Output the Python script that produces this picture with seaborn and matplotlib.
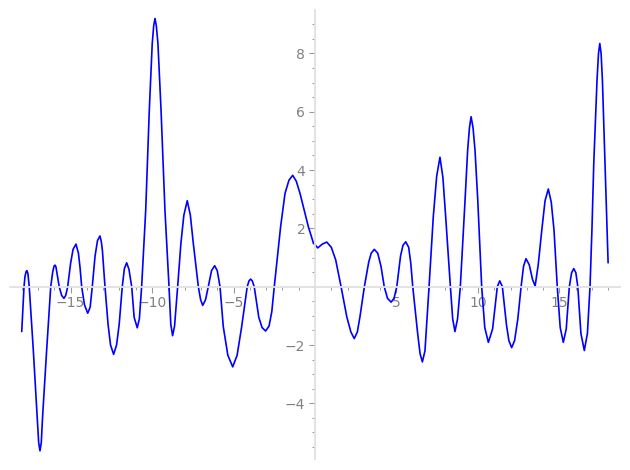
import numpy as np
import pandas as pd
import seaborn as sns
import matplotlib
matplotlib.use("Agg")
import matplotlib.pyplot as plt
from matplotlib.ticker import MultipleLocator, FixedLocator

# Points (data units)
x_vals = [-18.00, -17.93, -17.86, -17.80, -17.73, -17.68, -17.62, -17.54, -17.29, -17.05,
          -16.96, -16.88, -16.80, -16.72, -16.47, -16.22, -16.10, -16.02, -15.96, -15.90,
          -15.80, -15.70, -15.55, -15.41, -15.30, -15.18, -15.00, -14.85, -14.67, -14.52,
          -14.42, -14.32, -14.15, -13.95, -13.80, -13.67, -13.50, -13.35, -13.20, -13.12,
          -13.05, -12.89, -12.70, -12.55, -12.36, -12.18, -12.02, -11.83, -11.70, -11.56,
          -11.42, -11.25, -11.10, -10.91, -10.78, -10.64, -10.39, -10.17, -9.99, -9.90,
          -9.82, -9.74, -9.64, -9.45, -9.21, -8.96, -8.85, -8.74, -8.62, -8.43,
          -8.23, -8.05, -7.84, -7.65, -7.47, -7.16, -7.02, -6.89, -6.72, -6.55,
          -6.35, -6.16, -6.00, -5.83, -5.63, -5.35, -5.05, -4.78, -4.50, -4.16,
          -4.05, -3.95, -3.85, -3.73, -3.45, -3.25, -3.03, -2.82, -2.65, -2.50,
          -2.11, -1.84, -1.60, -1.37, -1.15, -0.92, -0.41, -0.10, 0.17, 0.45,
          0.72, 1.00, 1.27, 1.60, 1.95, 2.20, 2.41, 2.60, 2.76, 3.03,
          3.30, 3.45, 3.64, 3.85, 4.05, 4.25, 4.45, 4.67, 4.85, 5.02,
          5.25, 5.40, 5.57, 5.75, 5.88, 6.00, 6.30, 6.45, 6.59, 6.75,
          7.00, 7.26, 7.47, 7.67, 7.85, 8.02, 8.31, 8.45, 8.59, 8.75,
          8.92, 9.21, 9.37, 9.48, 9.58, 9.70, 9.82, 9.99, 10.23, 10.42,
          10.64, 10.90, 11.19, 11.34, 11.50, 11.75, 11.90, 12.07, 12.25, 12.45,
          12.65, 12.80, 12.95, 13.15, 13.35, 13.51, 13.70, 13.92, 14.12, 14.32,
          14.50, 14.67, 14.87, 15.05, 15.24, 15.42, 15.61, 15.75, 15.88, 16.01,
          16.13, 16.32, 16.53, 16.72, 16.88, 17.00, 17.11, 17.31, 17.40, 17.48,
          17.56, 17.64, 17.80, 17.90, 17.99]
y_vals = [-1.54, -0.75, 0.00, 0.35, 0.52, 0.55, 0.45, 0.00, -2.17, -4.46,
          -5.35, -5.63, -5.35, -4.46, -2.17, 0.00, 0.50, 0.70, 0.74, 0.68,
          0.35, 0.00, -0.30, -0.40, -0.30, 0.00, 0.80, 1.28, 1.46, 1.15,
          0.65, 0.00, -0.62, -0.91, -0.70, 0.00, 1.05, 1.58, 1.74, 1.56,
          1.25, 0.00, -1.30, -2.00, -2.32, -2.00, -1.30, 0.00, 0.62, 0.82,
          0.60, 0.00, -1.05, -1.41, -1.10, 0.00, 2.63, 6.06, 8.34, 8.95,
          9.20, 8.95, 8.34, 6.06, 2.63, 0.00, -1.30, -1.68, -1.35, 0.00,
          1.49, 2.45, 2.95, 2.45, 1.49, 0.00, -0.45, -0.64, -0.45, 0.00,
          0.55, 0.72, 0.55, 0.00, -1.37, -2.35, -2.75, -2.35, -1.37, 0.00,
          0.20, 0.26, 0.20, 0.00, -1.05, -1.40, -1.52, -1.35, -0.85, 0.00,
          2.06, 3.20, 3.65, 3.82, 3.62, 3.20, 2.06, 1.50, 1.33, 1.46,
          1.53, 1.35, 0.92, 0.00, -1.03, -1.55, -1.78, -1.55, -1.03, 0.00,
          0.85, 1.15, 1.28, 1.15, 0.70, 0.00, -0.40, -0.53, -0.40, 0.00,
          1.05, 1.42, 1.54, 1.35, 0.80, 0.00, -1.60, -2.30, -2.58, -2.20,
          0.00, 2.40, 3.80, 4.44, 3.75, 2.40, 0.00, -1.10, -1.54, -1.10,
          0.00, 2.97, 4.69, 5.45, 5.83, 5.45, 4.69, 2.97, 0.00, -1.40,
          -1.91, -1.45, 0.00, 0.20, 0.00, -1.30, -1.85, -2.09, -1.85, -1.10,
          0.00, 0.70, 0.96, 0.75, 0.25, 0.02, 0.75, 1.94, 2.95, 3.35,
          2.90, 1.94, 0.00, -1.40, -1.91, -1.45, 0.00, 0.48, 0.62, 0.48,
          0.00, -1.60, -2.19, -1.60, 0.00, 2.00, 4.23, 7.09, 8.00, 8.34,
          8.00, 7.09, 4.23, 2.50, 0.82]

x_major = [-15, -10, -5, 5, 10, 15]
y_major = [-4, -2, 2, 4, 6, 8]

df = pd.DataFrame({"x": x_vals, "y": y_vals})

sns.set_style("white")
fig = plt.figure(figsize=(6.3, 4.7), dpi=100)
ax = fig.add_axes([10 / 630, 1 - 459 / 470, 610 / 630, 449 / 470])

sns.lineplot(data=df, x="x", y="y", sort=False, estimator=None,
             color="blue", linewidth=1.2, solid_joinstyle="round", ax=ax)

ax.set_xlim(-18.72, 18.72)
ax.set_ylim(-5.91, 9.49)
ax.set_xlabel("")
ax.set_ylabel("")

# axes crossing at the origin
for side in ["top", "right"]:
    ax.spines[side].set_visible(False)
ax.spines["left"].set_position(("data", 0))
ax.spines["bottom"].set_position(("data", 0))
for side in ["left", "bottom"]:
    ax.spines[side].set_color("0.88")
    ax.spines[side].set_linewidth(1.3)

ax.xaxis.set_major_locator(FixedLocator(x_major))
ax.yaxis.set_major_locator(FixedLocator(y_major))
ax.xaxis.set_minor_locator(MultipleLocator(1))
ax.yaxis.set_minor_locator(MultipleLocator(0.5))
ax.set_xticklabels([f"\u2212{abs(v)}" if v < 0 else str(v) for v in x_major])
ax.set_yticklabels([f"\u2212{abs(v)}" if v < 0 else str(v) for v in y_major])

# seaborn's white style switches the tick marks off; bring them back
ax.tick_params(axis="x", which="both", bottom=True)
ax.tick_params(axis="y", which="both", left=True)
ax.tick_params(which="major", direction="out", length=4, width=0.8,
               color="0.6", labelcolor="0.5", labelsize=10, pad=3)
ax.tick_params(which="minor", direction="out", length=2.5, width=0.7, color="0.6")
ax.patch.set_visible(False)

fig.savefig("out.png", dpi=100)
